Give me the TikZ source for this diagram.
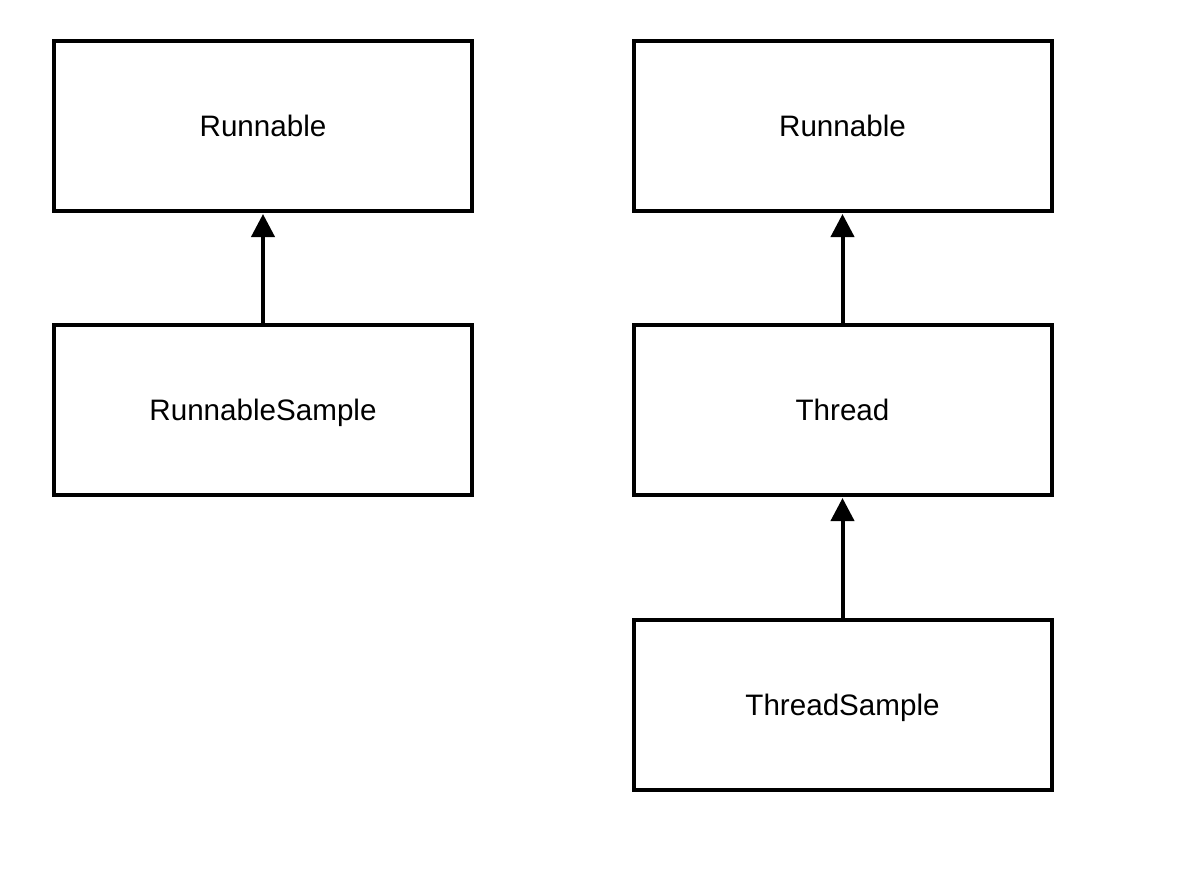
\documentclass[tikz,border=0pt]{standalone}
\usepackage{fontspec}
\setmainfont{Liberation Sans}
\usetikzlibrary{arrows.meta}

\tikzset{
  classbox/.style={draw=black, line width=2pt, minimum width=209pt, minimum height=85pt, inner sep=0pt, text height=12pt, text depth=2pt, font=\fontsize{14.8}{17}\selectfont},
  inherit/.style={line width=2pt, -{Triangle[length=11.5pt,width=11.5pt]}, shorten >=0.5pt}
}

\begin{document}
\begin{tikzpicture}[x=0.5pt,y=-0.5pt]
\useasboundingbox (0,0) rectangle (1182,874);

\node[classbox] (runA) at (263,126) {Runnable};
\node[classbox] (runSample) at (263,410) {RunnableSample};
\draw[inherit] (runSample.north) -- (runA.south);

\node[classbox] (runB) at (842.5,126) {Runnable};
\node[classbox] (thread) at (842.5,410) {Thread};
\node[classbox] (threadSample) at (842.5,705) {ThreadSample};
\draw[inherit] (thread.north) -- (runB.south);
\draw[inherit] (threadSample.north) -- (thread.south);

\end{tikzpicture}
\end{document}
